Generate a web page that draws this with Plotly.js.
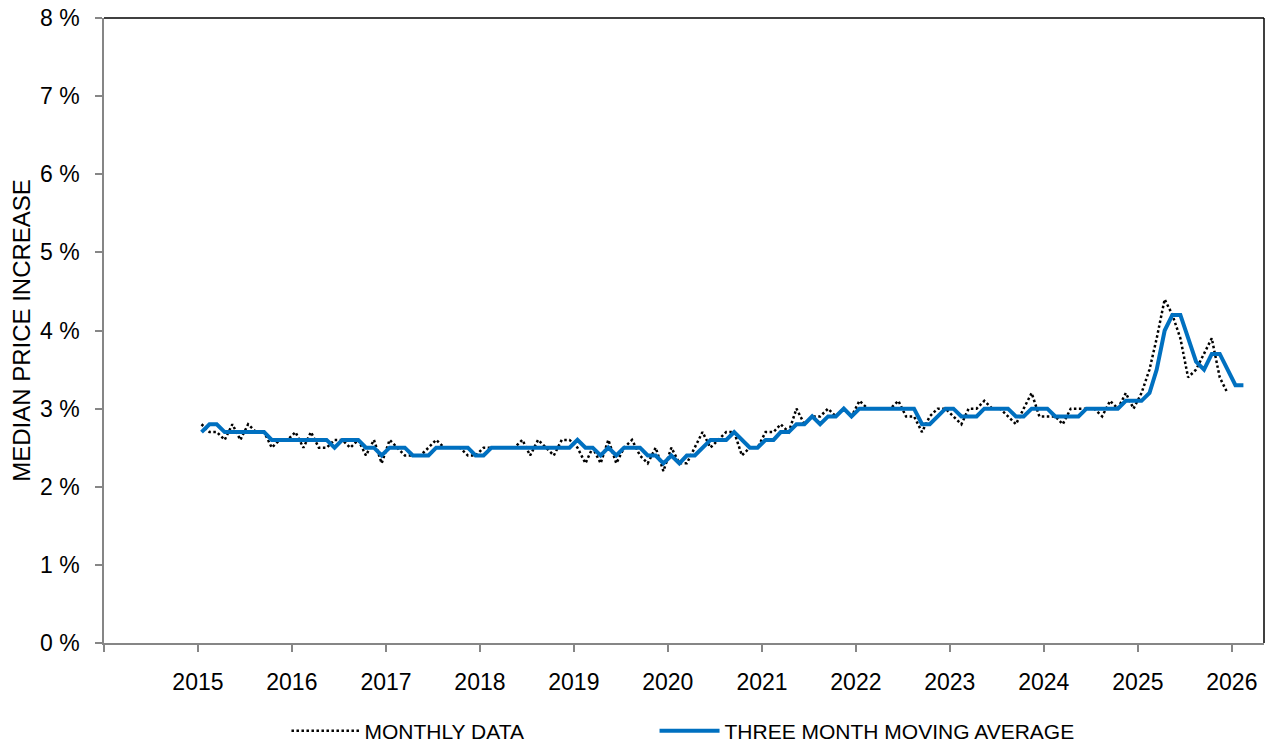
<!DOCTYPE html>
<html>
<head>
<meta charset="utf-8">
<script src="https://cdn.plot.ly/plotly-3.0.1.min.js"></script>
<style>
  html, body { margin: 0; padding: 0; background: #ffffff; }
  #chart { width: 1272px; height: 744px; }
</style>
</head>
<body>
<div id="chart"></div>
<script>
// ---- data (percent) ----
const firstYear = 2015;

// Monthly data, Jan 2015 - Dec 2025
const monthlyData = [
  2.8, 2.7, 2.7, 2.6, 2.8, 2.6, 2.8, 2.7, 2.7, 2.5, 2.6, 2.6, // 2015
  2.7, 2.5, 2.7, 2.5, 2.5, 2.6, 2.6, 2.5, 2.6, 2.4, 2.6, 2.3, // 2016
  2.6, 2.5, 2.4, 2.4, 2.4, 2.5, 2.6, 2.5, 2.5, 2.5, 2.4, 2.4, // 2017
  2.5, 2.5, 2.5, 2.5, 2.5, 2.6, 2.4, 2.6, 2.5, 2.4, 2.6, 2.6, // 2018
  2.5, 2.3, 2.5, 2.3, 2.6, 2.3, 2.5, 2.6, 2.4, 2.3, 2.5, 2.2, // 2019
  2.5, 2.3, 2.3, 2.5, 2.7, 2.5, 2.6, 2.7, 2.7, 2.4, 2.5, 2.5, // 2020
  2.7, 2.7, 2.8, 2.7, 3.0, 2.8, 2.9, 2.9, 3.0, 2.9, 3.0, 2.9, // 2021
  3.1, 3.0, 3.0, 3.0, 3.0, 3.1, 2.9, 2.9, 2.7, 2.9, 3.0, 3.0, // 2022
  2.9, 2.8, 3.0, 3.0, 3.1, 3.0, 3.0, 2.9, 2.8, 3.0, 3.2, 2.9, // 2023
  2.9, 2.9, 2.8, 3.0, 3.0, 3.0, 3.0, 2.9, 3.1, 3.0, 3.2, 3.0, // 2024
  3.2, 3.5, 3.9, 4.4, 4.2, 3.9, 3.4, 3.5, 3.7, 3.9, 3.4, 3.2  // 2025
];

// Three month moving average, Jan 2015 - Feb 2026
const movingAverage = [
  2.7, 2.8, 2.8, 2.7, 2.7, 2.7, 2.7, 2.7, 2.7, 2.6, 2.6, 2.6, // 2015
  2.6, 2.6, 2.6, 2.6, 2.6, 2.5, 2.6, 2.6, 2.6, 2.5, 2.5, 2.4, // 2016
  2.5, 2.5, 2.5, 2.4, 2.4, 2.4, 2.5, 2.5, 2.5, 2.5, 2.5, 2.4, // 2017
  2.4, 2.5, 2.5, 2.5, 2.5, 2.5, 2.5, 2.5, 2.5, 2.5, 2.5, 2.5, // 2018
  2.6, 2.5, 2.5, 2.4, 2.5, 2.4, 2.5, 2.5, 2.5, 2.4, 2.4, 2.3, // 2019
  2.4, 2.3, 2.4, 2.4, 2.5, 2.6, 2.6, 2.6, 2.7, 2.6, 2.5, 2.5, // 2020
  2.6, 2.6, 2.7, 2.7, 2.8, 2.8, 2.9, 2.8, 2.9, 2.9, 3.0, 2.9, // 2021
  3.0, 3.0, 3.0, 3.0, 3.0, 3.0, 3.0, 3.0, 2.8, 2.8, 2.9, 3.0, // 2022
  3.0, 2.9, 2.9, 2.9, 3.0, 3.0, 3.0, 3.0, 2.9, 2.9, 3.0, 3.0, // 2023
  3.0, 2.9, 2.9, 2.9, 2.9, 3.0, 3.0, 3.0, 3.0, 3.0, 3.1, 3.1, // 2024
  3.1, 3.2, 3.5, 4.0, 4.2, 4.2, 3.9, 3.6, 3.5, 3.7, 3.7, 3.5, // 2025
  3.3, 3.3                                                    // 2026
];

const yearTickLabels = ['', '2015', '2016', '2017', '2018', '2019', '2020',
                        '2021', '2022', '2023', '2024', '2025', '2026'];
const seriesNames = ['MONTHLY DATA', 'THREE MONTH MOVING AVERAGE'];

// ---- helpers ----
function monthDates(n) {
  const out = [];
  for (let i = 0; i < n; i++) {
    const y = firstYear + Math.floor(i / 12);
    const m = (i % 12) + 1;
    out.push(y + '-' + String(m).padStart(2, '0') + '-15');
  }
  return out;
}
const tickDates = yearTickLabels.map((_, i) => (firstYear - 1 + i) + '-01-01');

const FONT = '"Liberation Sans", Arial, sans-serif';
const AXIS_GREY = '#868686';

const traces = [
  {
    type: 'scatter', mode: 'lines', name: seriesNames[0], legend: 'legend',
    x: monthDates(monthlyData.length), y: monthlyData,
    line: { color: '#000000', width: 2.5, dash: '2.5px,2.5px' },
    hoverinfo: 'x+y'
  },
  {
    type: 'scatter', mode: 'lines', name: seriesNames[1], legend: 'legend2',
    x: monthDates(movingAverage.length), y: movingAverage,
    line: { color: '#0070C0', width: 4 },
    hoverinfo: 'x+y'
  }
];

const legendFont = { family: FONT, size: 21, color: '#000000' };

const layout = {
  width: 1272, height: 744,
  paper_bgcolor: '#ffffff', plot_bgcolor: '#ffffff',
  margin: { l: 104, r: 8, t: 18, b: 101, autoexpand: false },
  font: { family: FONT, color: '#000000', size: 21 },
  showlegend: true,
  legend: {
    orientation: 'h', x: 0.1573, xanchor: 'left', y: -0.141, yanchor: 'middle',
    font: legendFont, itemwidth: 68, bgcolor: 'rgba(0,0,0,0)'
  },
  legend2: {
    orientation: 'h', x: 0.4746, xanchor: 'left', y: -0.141, yanchor: 'middle',
    font: legendFont, itemwidth: 60, bgcolor: 'rgba(0,0,0,0)'
  },
  xaxis: {
    type: 'date',
    range: ['2014-01-01', '2026-05-06'],
    tickmode: 'array', tickvals: tickDates, ticktext: yearTickLabels,
    ticks: 'outside', ticklen: 7, tickwidth: 1.5, tickcolor: AXIS_GREY,
    showline: true, linecolor: AXIS_GREY, linewidth: 1.5,
    showgrid: false, zeroline: false,
    tickfont: { family: FONT, size: 23, color: '#000000' },
    ticklabelstandoff: 11,
    automargin: false,
    fixedrange: true
  },
  yaxis: {
    range: [0, 8], dtick: 1, tick0: 0, ticksuffix: ' %',
    ticks: 'outside', ticklen: 7, tickwidth: 1.5, tickcolor: AXIS_GREY,
    showline: true, linecolor: AXIS_GREY, linewidth: 1.5,
    showgrid: false, zeroline: false,
    tickfont: { family: FONT, size: 23, color: '#000000' },
    ticklabelstandoff: 11,
    title: { text: 'MEDIAN PRICE INCREASE', font: { family: FONT, size: 24, color: '#000000' }, standoff: 3 },
    automargin: false,
    fixedrange: true
  },
  shapes: [
    { type: 'line', xref: 'paper', yref: 'paper', x0: 0, x1: 1, y0: 1, y1: 1,
      line: { color: '#000000', width: 1.5 } },
    { type: 'line', xref: 'paper', yref: 'paper', x0: 1, x1: 1, y0: 0, y1: 1,
      line: { color: '#000000', width: 1.5 } }
  ]
};

Plotly.newPlot('chart', traces, layout, { displayModeBar: false });
</script>
</body>
</html>
